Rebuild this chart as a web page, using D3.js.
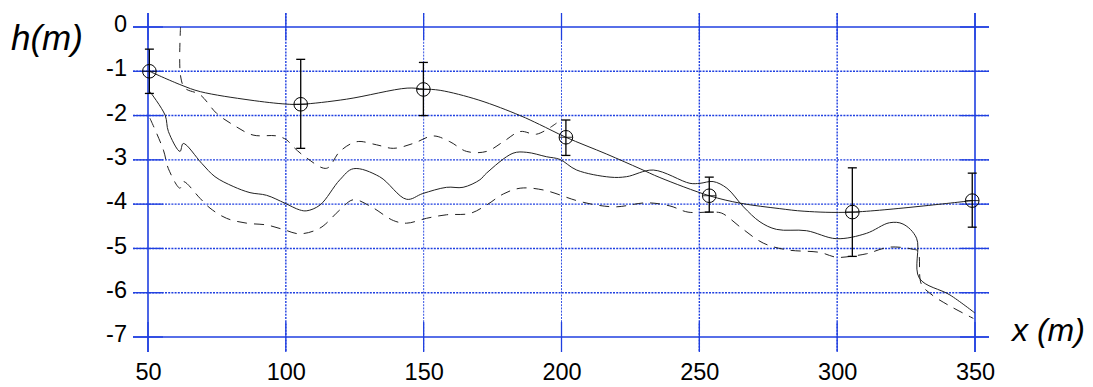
<!DOCTYPE html>
<html>
<head>
<meta charset="utf-8">
<script src="https://cdn.jsdelivr.net/npm/d3@7"></script>
<style>
  body { margin: 0; background: #fff; }
  svg { display: block; font-family: "Liberation Sans", Arial, Helvetica, sans-serif; }
</style>
</head>
<body>
<div id="chart"></div>
<script>
// ticks
const xTicks = [50, 100, 150, 200, 250, 300, 350];
const yTicks = [0, -1, -2, -3, -4, -5, -6, -7];

// measured points with error bars
const obsX = [50.5, 105.4, 149.9, 201.6, 253.6, 305.5, 349];
const obsH = [-1.0, -1.745, -1.41, -2.49, -3.81, -4.18, -3.92];
const errTop = [-0.5, -0.73, -0.8, -2.1, -3.39, -3.18, -3.3];
const errBot = [-1.5, -2.74, -2.0, -2.9, -4.18, -5.18, -4.52];

// smooth line through the measurements
const fitX = [50.5, 62, 69, 87, 100, 105.4, 122, 144, 149.9, 156, 170, 185, 192, 201.6, 216.4, 228.5, 235.7, 253.6, 265, 279, 288, 305.5, 349];
const fitH = [-1.0, -1.31, -1.46, -1.65, -1.74, -1.745, -1.63, -1.38, -1.40, -1.43, -1.65, -2.0, -2.2, -2.49, -2.87, -3.2, -3.4, -3.81, -3.98, -4.1, -4.16, -4.18, -3.92];

// model, solid
const solidX = [50.7, 56.2, 57.4, 61.6, 62.8, 69.5, 74.3, 80.9, 87, 93, 99.7, 105, 107.6, 112.4, 119.6, 124.5, 134, 143.8, 149.7, 158.3, 164.3, 170.4, 172.8, 182.4, 187.4, 194.6, 199.4, 205.5, 217.6, 223.6, 233.3, 246.6, 250.2, 255, 260, 266, 272, 278, 288.9, 299.7, 310.6, 319, 323.9, 328.8, 329.8, 340.9, 350];
const solidH = [-1.46, -1.99, -2.36, -2.81, -2.63, -3.08, -3.38, -3.6, -3.74, -3.8, -3.98, -4.13, -4.15, -4.02, -3.45, -3.2, -3.38, -3.89, -3.76, -3.62, -3.62, -3.45, -3.30, -2.85, -2.83, -2.93, -2.99, -3.23, -3.39, -3.38, -3.23, -3.53, -3.53, -3.49, -3.64, -4.06, -4.4, -4.57, -4.6, -4.78, -4.66, -4.42, -4.45, -4.77, -5.67, -6.05, -6.46];

// model, dashed (upper branch)
const dashUpX = [61.8, 61.8, 63.4, 68.9, 74.9, 80.9, 88.1, 96.7, 100.3, 102.6, 107.6, 114.8, 119.6, 125.7, 132.9, 139, 146.2, 153.5, 159.5, 165.6, 172.8, 178.9, 185, 191, 198.2];
const dashUpH = [0, -1.1, -1.38, -1.53, -1.95, -2.21, -2.44, -2.46, -2.55, -2.7, -2.96, -3.19, -2.81, -2.59, -2.66, -2.74, -2.63, -2.46, -2.59, -2.81, -2.81, -2.59, -2.36, -2.42, -2.17];

// model, dashed (lower branch)
const dashLoX = [50.7, 55.6, 57.4, 61.6, 62.8, 68.9, 72.5, 78.5, 85.8, 93, 99, 105, 112.4, 119.6, 124.5, 131, 139, 143.8, 151, 158.3, 166.8, 172.8, 178.9, 185, 193.4, 205.5, 212.7, 220, 230.9, 239.3, 245.9, 256.3, 258.7, 265.3, 273.2, 281.6, 293.7, 299.8, 305.8, 310.7, 319.1, 327.6, 329.3, 330.5, 334, 340.3, 349.4];
const dashLoH = [-2.06, -2.78, -3.2, -3.64, -3.49, -3.87, -4.09, -4.32, -4.43, -4.47, -4.57, -4.67, -4.54, -4.13, -3.9, -4.06, -4.37, -4.43, -4.32, -4.24, -4.21, -4.02, -3.77, -3.64, -3.68, -3.92, -4.02, -4.06, -3.97, -4.04, -4.18, -4.18, -4.22, -4.54, -4.88, -5.03, -5.09, -5.2, -5.17, -5.12, -4.97, -5.02, -5.06, -5.8, -6.03, -6.28, -6.58];

const W = 1093, H = 387;
const plotL = 148, plotR = 975, plotT = 27, plotB = 337;
const blue = "#1f3fe0";

const svg = d3.select("#chart").append("svg")
  .attr("width", W).attr("height", H);

const x = d3.scaleLinear().domain([50, 350]).range([plotL, plotR]);
const y = d3.scaleLinear().domain([0, -7]).range([plotT, plotB]);

// dotted grid
const grid = svg.append("g");
grid.selectAll(".hg").data(yTicks.slice(1, -1)).enter().append("line")
  .attr("x1", plotL - 15).attr("x2", plotR + 14)
  .attr("y1", d => y(d)).attr("y2", d => y(d))
  .attr("stroke", blue).attr("stroke-width", 1.4)
  .attr("stroke-dasharray", "2,1.2");
grid.selectAll(".vg").data(xTicks.slice(1, -1)).enter().append("line")
  .attr("y1", plotT - 14).attr("y2", plotB + 15)
  .attr("x1", d => x(d)).attr("x2", d => x(d))
  .attr("stroke", blue).attr("stroke-width", d => (d === 150 || d === 200) ? 0.9 : 1.4)
  .attr("stroke-dasharray", "2,1.2");

// solid frame
grid.append("line").attr("x1", plotL - 15).attr("x2", plotR + 14)
  .attr("y1", y(0)).attr("y2", y(0)).attr("stroke", blue).attr("stroke-width", 1.4);
grid.append("line").attr("x1", plotL - 15).attr("x2", plotR + 14)
  .attr("y1", y(-7)).attr("y2", y(-7)).attr("stroke", blue).attr("stroke-width", 1.4);
grid.append("line").attr("y1", plotT - 14).attr("y2", plotB + 15)
  .attr("x1", x(50)).attr("x2", x(50)).attr("stroke", blue).attr("stroke-width", 1.6);
grid.append("line").attr("y1", plotT - 14).attr("y2", plotB + 15)
  .attr("x1", x(350)).attr("x2", x(350)).attr("stroke", blue).attr("stroke-width", 1.6);

// solid tick stubs
const stubs = svg.append("g").attr("stroke", blue).attr("stroke-width", 1.3);
yTicks.forEach(d => {
  stubs.append("line").attr("x1", plotL - 15).attr("x2", plotL + 15).attr("y1", y(d)).attr("y2", y(d));
  stubs.append("line").attr("x1", plotR - 15).attr("x2", plotR + 14).attr("y1", y(d)).attr("y2", y(d));
});
xTicks.forEach(d => {
  stubs.append("line").attr("y1", plotT - 14).attr("y2", plotT + 13).attr("x1", x(d)).attr("x2", x(d));
  stubs.append("line").attr("y1", plotB - 15).attr("y2", plotB + 15).attr("x1", x(d)).attr("x2", x(d));
});

// axis labels via d3 axes
const yAxis = svg.append("g").attr("transform", `translate(${plotL},0)`)
  .call(d3.axisLeft(y).tickValues(yTicks).tickSize(15).tickPadding(6).tickFormat(d => String(d)));
const xAxis = svg.append("g").attr("transform", `translate(0,${plotB})`)
  .call(d3.axisBottom(x).tickValues(xTicks).tickSize(15).tickPadding(11).tickFormat(d => String(d)));
[yAxis, xAxis].forEach(a => {
  a.select(".domain").remove();
  a.selectAll(".tick line").remove();
  a.selectAll("text").attr("font-size", 23.5).attr("fill", "#000")
    .attr("font-family", "'Liberation Sans', Arial, Helvetica, sans-serif");
});
yAxis.selectAll("text").attr("dy", "0.2em");

// titles
svg.append("text").attr("x", 11).attr("y", 50)
  .attr("font-size", 35).attr("font-style", "italic").text("h(m)");
svg.append("text").attr("x", 1012).attr("y", 341)
  .attr("font-size", 32).attr("font-style", "italic").text("x (m)");

// curves
const line = d3.line()
  .x(d => x(d[0])).y(d => y(d[1]))
  .curve(d3.curveCatmullRom.alpha(0.5));
const zip = (a, b) => a.map((v, i) => [v, b[i]]);

const curves = svg.append("g").attr("fill", "none").attr("stroke", "#222").attr("stroke-width", 1);
curves.append("path").attr("d", line(zip(fitX, fitH)));
curves.append("path").attr("d", line(zip(solidX, solidH)));
curves.append("path").attr("d", line(zip(dashUpX, dashUpH))).attr("stroke-dasharray", "9,7");
curves.append("path").attr("d", line(zip(dashLoX, dashLoH))).attr("stroke-dasharray", "10,7");

// error bars and circles
const pts = svg.append("g").attr("stroke", "#000").attr("fill", "none");
obsX.forEach((xv, i) => {
  pts.append("line").attr("x1", x(xv)).attr("x2", x(xv))
    .attr("y1", y(errTop[i])).attr("y2", y(errBot[i])).attr("stroke-width", 1.3);
  [errTop[i], errBot[i]].forEach(e => {
    pts.append("line").attr("x1", x(xv) - 4.5).attr("x2", x(xv) + 4.5)
      .attr("y1", y(e)).attr("y2", y(e)).attr("stroke-width", 1.3);
  });
  pts.append("circle").attr("cx", x(xv)).attr("cy", y(obsH[i])).attr("r", 6.8).attr("stroke-width", 1);
  pts.append("line").attr("x1", x(xv) - 6.8).attr("x2", x(xv) + 6.8)
    .attr("y1", y(obsH[i])).attr("y2", y(obsH[i])).attr("stroke-width", 0.8);
});
</script>
</body>
</html>
